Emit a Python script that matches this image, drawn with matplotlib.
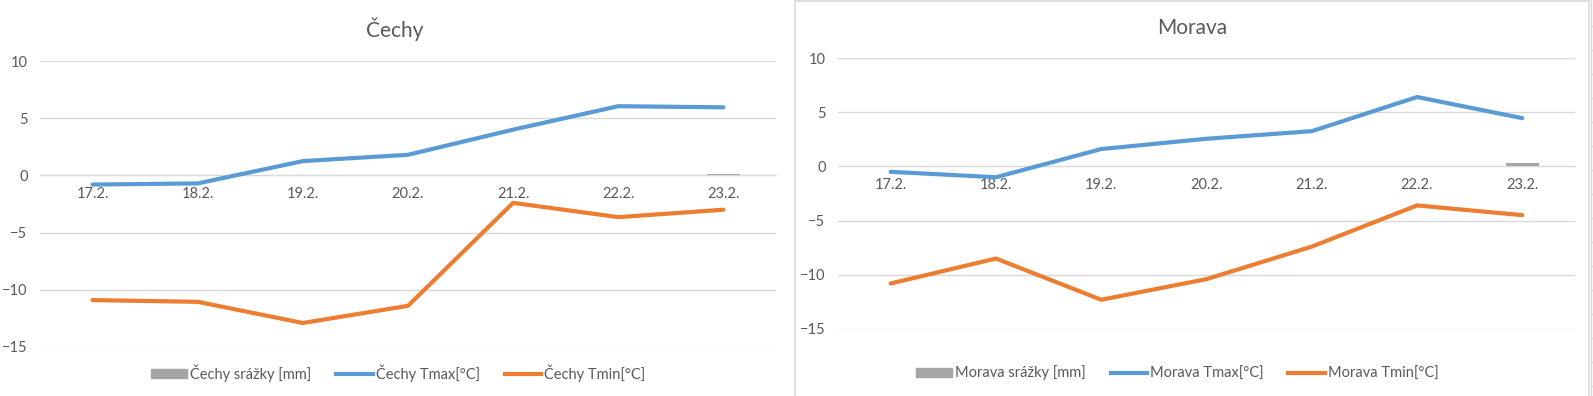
import matplotlib
matplotlib.use("Agg")
import matplotlib.pyplot as plt
from matplotlib.patches import Rectangle, Patch
from matplotlib.lines import Line2D

plt.rcParams['font.family'] = ['Lato', 'DejaVu Sans']

# data
days = ["17.2.", "18.2.", "19.2.", "20.2.", "21.2.", "22.2.", "23.2."]

cechy_srazky = [0, 0, 0, 0, 0, 0, 0.1]
cechy_tmax = [-0.8, -0.7, 1.25, 1.8, 4.0, 6.05, 5.95]
cechy_tmin = [-10.9, -11.05, -12.9, -11.4, -2.4, -3.65, -3.0]

morava_srazky = [0, 0, 0, 0, 0, 0, 0.35]
morava_tmax = [-0.5, -1.0, 1.6, 2.55, 3.25, 6.4, 4.45]
morava_tmin = [-10.8, -8.5, -12.3, -10.4, -7.4, -3.6, -4.5]

yticks = [-15, -10, -5, 0, 5, 10]

W, H = 1593, 396
TEXT = "#595959"
GRID = "#d9d9d9"
BLUE = "#5B9BD5"
ORANGE = "#ED7D31"
GRAY = "#A5A5A5"

fig = plt.figure(figsize=(W / 100, H / 100), dpi=100)


def px_axes(x0, x1, ytop, ybot):
    return fig.add_axes([x0 / W, 1 - ybot / H, (x1 - x0) / W, (ybot - ytop) / H])


def draw_panel(ax, region, srazky, tmax, tmin):
    x = range(len(days))
    ax.bar(x, srazky, width=0.31, color=GRAY, zorder=2)
    ax.plot(x, tmax, color=BLUE, lw=3, solid_capstyle="round", zorder=3)
    ax.plot(x, tmin, color=ORANGE, lw=3, solid_capstyle="round", zorder=3)

    ax.set_xlim(-0.5, len(days) - 0.5)
    ax.set_ylim(-15, 10)
    ax.set_yticks(yticks)
    ax.set_xticks(list(x))
    ax.set_xticklabels(days)
    ax.yaxis.grid(True, color=GRID, lw=1)
    ax.set_axisbelow(True)
    for s in ["top", "right", "left"]:
        ax.spines[s].set_visible(False)
    ax.spines["bottom"].set_position(("data", 0))
    ax.spines["bottom"].set_color(GRID)
    ax.tick_params(axis="both", length=0, colors=TEXT, labelsize=10.5)
    ax.tick_params(axis="y", pad=9)
    ax.tick_params(axis="x", pad=8)

    handles = [Patch(color=GRAY, label=region + " srážky [mm]"),
               Line2D([], [], color=BLUE, lw=3, label=region + " Tmax[°C]"),
               Line2D([], [], color=ORANGE, lw=3, label=region + " Tmin[°C]")]
    return handles


def add_legend(handles, xc):
    fig.legend(handles=handles, loc="center", bbox_to_anchor=(xc / W, 1 - 373 / H), ncol=3,
               frameon=False, fontsize=10.5, labelcolor=TEXT, handlelength=2.5,
               handleheight=0.6, handletextpad=0.2, columnspacing=1.7)


# Čechy
ax1 = px_axes(40, 776, 61, 347)
h1 = draw_panel(ax1, "Čechy", cechy_srazky, cechy_tmax, cechy_tmin)
fig.text(395 / W, 1 - 29 / H, "Čechy", ha="center", va="center", fontsize=15, color=TEXT)
add_legend(h1, 398)

# Morava
ax2 = px_axes(838, 1575, 58, 329)
h2 = draw_panel(ax2, "Morava", morava_srazky, morava_tmax, morava_tmin)
fig.text(1192 / W, 1 - 28 / H, "Morava", ha="center", va="center", fontsize=15, color=TEXT)
add_legend(h2, 1177)

# chart border of the right panel
fig.patches.append(Rectangle((795 / W, -0.01), (1589 - 795) / W, 1.0 - 1 / H + 0.01,
                             transform=fig.transFigure, fill=False,
                             edgecolor=GRID, lw=1.2))

# edge of the next sheet element on the right
fig.add_artist(Line2D([1590.5 / W, 1590.5 / W], [0, 1], transform=fig.transFigure,
                      color=GRID, lw=1))
for yy in range(26, H, 24):
    fig.add_artist(Line2D([1590.5 / W, 1594 / W], [1 - yy / H, 1 - yy / H],
                          transform=fig.transFigure, color=GRID, lw=1))

fig.savefig("out.png", dpi=100)
